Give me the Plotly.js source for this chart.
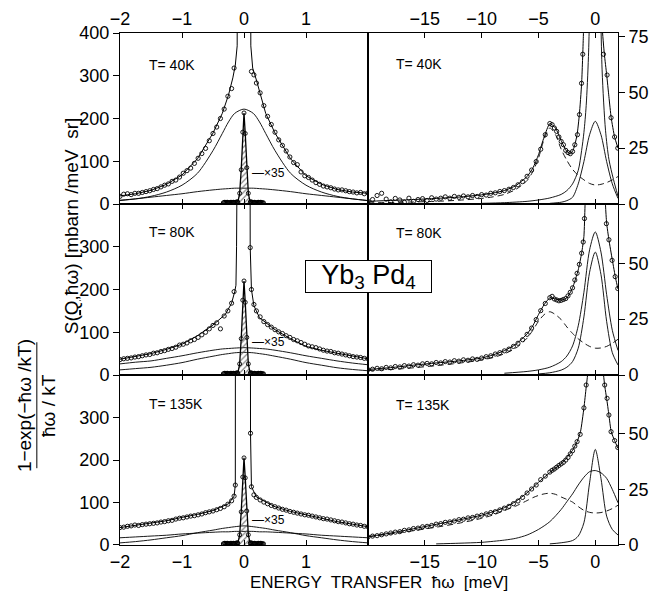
<!DOCTYPE html>
<html><head><meta charset="utf-8">
<script src="https://cdn.plot.ly/plotly-3.0.1.min.js"></script>
<style>html,body{margin:0;padding:0;background:#fff}#chart{width:652px;height:598px}</style>
</head><body><div id="chart"></div>
<script>
// ---------- LEFT COLUMN (high resolution, -2..2 meV) ----------
const lGrid = [-2,-1.75,-1.5,-1.25,-1,-0.75,-0.5,-0.35,-0.25,-0.15,0,0.15,0.25,0.35,0.5,0.75,1,1.25,1.5,1.75,2];
// 40 K components
const l40Broad = [8,12,18,28,44,72,125,165,192,212,222,212,192,165,125,72,44,28,18,12,8];
const l40Low   = [9,12,16,20,24,29,33,35,36,37,37,37,36,35,33,29,24,20,16,12,8];
// 80 K components
const l80Upper = [26,30,33,39,45,52,58,61,62,63,64,63,62,61,58,52,45,39,33,28,24];
const l80Lower = [12,15,18,23,29,37,44,48,50,52,53,52,50,48,44,37,29,23,17,13,10];
// 135 K components
const l135A = [5,8,12,17,22,29,35,39,41,43,45,43,41,39,35,29,22,17,12,8,5];
const l135B = [17,19,21,23,26,28,30,31,31,32,32,32,31,31,30,28,26,23,21,19,17];

// total fits
const l40TotX = [-2,-1.75,-1.5,-1.25,-1,-0.75,-0.5,-0.35,-0.25,-0.18,-0.14,-0.11,-0.1,0,0.1,0.11,0.14,0.2,0.25,0.35,0.5,0.75,1,1.25,1.5,1.75,2];
const l40Tot  = [19,24,32,46,68,106,166,212,255,295,325,370,1500,3000,1500,370,318,290,262,212,166,106,66,46,34,28,25];
const l80TotX = [-2,-1.75,-1.5,-1.25,-1,-0.75,-0.5,-0.3,-0.2,-0.15,-0.13,-0.12,-0.115,0,0.09,0.1,0.12,0.16,0.25,0.5,0.75,1,1.25,1.5,1.75,2];
const l80Tot  = [37,43,50,60,72,92,117,142,168,195,210,300,1500,3000,1500,300,200,162,134,106,85,67,58,51,44,38];
const l135TotX = [-2,-1.75,-1.5,-1.25,-1,-0.75,-0.5,-0.25,-0.16,-0.14,-0.135,0,0.1,0.105,0.12,0.2,0.5,0.75,1,1.25,1.5,1.75,2];
const l135Tot  = [41,46,51,57,65,72,81,97,115,141,1500,3000,1500,263,137,113,90,79,71,63,55,49,43];

// elastic line x35 (hatched)
const elX   = [-0.1,-0.07,-0.045,-0.02,0,0.02,0.045,0.07,0.1];
const el40  = [4,25,80,168,213,165,85,25,4];
const el80  = [4,26,85,175,220,170,88,26,4];
const el135 = [4,24,78,160,205,158,80,24,4];
const elBaseX = [-0.33,-0.31,-0.29,-0.27,-0.25,-0.23,-0.21,-0.19,-0.17,-0.15,-0.13,-0.11,0.11,0.13,0.15,0.17,0.19,0.21,0.23,0.25,0.27,0.29,0.31];
const elBase  = [3,4,3,4,3,3,4,3,4,3,4,5,5,4,3,4,3,3,4,3,4,3,3];

// measured points, left column
const lPtsX = [-2,-1.94,-1.88,-1.82,-1.76,-1.7,-1.64,-1.58,-1.52,-1.46,-1.4,-1.34,-1.28,-1.22,-1.16,-1.1,-1.04,-0.98,-0.92,-0.86,-0.8,-0.74,-0.68,-0.62,-0.56,-0.5,-0.44,-0.38,-0.32,-0.26,-0.2,-0.16,
  0.12,0.16,0.2,0.26,0.32,0.38,0.44,0.5,0.56,0.62,0.68,0.74,0.8,0.86,0.92,0.98,1.04,1.1,1.16,1.22,1.28,1.34,1.4,1.46,1.52,1.58,1.64,1.7,1.76,1.82,1.88,1.94,2];
const l40Pts = [18,23,24,22,25,25,27,29,31,34,36,40,44,47,53,56,63,72,78,84,95,107,118,130,148,165,180,200,222,252,270,318,
  310,302,283,260,230,205,186,168,150,137,124,110,97,92,75,66,62,56,50,46,42,40,38,35,33,33,31,29,28,26,27,24,26];
const l80Pts = [36,38,39,40,42,43,45,47,48,51,52,55,57,60,62,65,70,72,75,80,83,88,94,100,108,116,122,108,138,150,168,195,
  200,165,150,136,125,118,112,106,101,97,92,88,83,80,76,72,68,66,64,61,58,56,55,52,51,49,47,45,43,42,41,39,38];
const l135Pts = [41,42,44,45,47,46,48,49,50,51,52,54,55,57,58,61,63,64,66,68,69,71,73,76,78,80,83,86,90,96,104,115,
  137,118,112,106,101,97,93,90,87,84,82,79,77,75,73,71,70,68,66,64,62,61,59,57,55,54,52,50,49,47,46,44,43];
const l80ExtraX = [0.1], l80Extra = [298];
const l135ExtraX = [-0.14,0.105], l135Extra = [141,263];

// ---------- RIGHT COLUMN (-20..2 meV) ----------
const rDashX = [-20,-17,-14,-12,-10,-9,-8,-7,-6,-5.5,-5,-4.5,-4,-3.5,-3,-2.5,-2,-1.5,-1,-0.5,0,0.5,1,1.5,2];
const r40Dash  = [0.5,0.8,1.2,1.7,2.5,3.2,4.3,6.5,10.5,14.5,20.5,29,34,31,24.5,19.5,15.5,12.8,10.8,9.2,8.5,8.8,9.6,10.8,12.3];
const r80Dash  = [2,2.8,4.2,5.3,6.7,7.8,9.5,12,16.5,20,24,27,28.3,27,24.8,21.5,18.6,16.2,14.3,12.8,12,12.1,12.8,14.2,16];
const r135Dash = [3.7,5.7,8,9.8,12,13.5,15.5,17.5,20,21.3,22.3,23,23.3,22.8,21.6,20.5,19.3,17.3,15.6,14.7,14.4,14.6,15.3,16.4,17.9];

const r40TotX = [-20,-18,-16,-14,-12,-10,-9,-8,-7,-6,-5.5,-5,-4.5,-4,-3.5,-3,-2.5,-2.2,-2,-1.8,-1.6,-1.4,-1.2,-1.05,-0.9,-0.5,0,0.4,0.6,0.8,1,1.2,1.4,1.7,2];
const r40Tot  = [1.2,1.6,2,2.5,3.1,4.1,4.9,6,8.2,12.3,16,22,30,36,34,28.3,23.5,22.5,23.5,26.5,31,40,54,75,110,300,500,200,80,67,58,48,38.6,30,25];
const r40QeX = [-10,-8,-6,-5,-4,-3,-2.5,-2,-1.5,-1.2,-1,-0.8,-0.6,-0.4,0,0.4,0.6,0.9,1.2,1.6,2];
const r40Qe  = [0.3,0.6,1.2,1.8,2.7,4.3,6,9,15,24,32,44,66,110,220,110,60,33,20,11,3.5];
const r40Q2X = [-4,-3,-2.5,-2,-1.5,-1,-0.5,0,0.5,1,1.5,2];
const r40Q2  = [0.3,0.8,1.5,3,9,19,31,37,31,19,9,2.5];

const r80TotX = [-20,-18,-16,-14,-12,-10,-9,-8,-7,-6,-5.5,-5,-4.5,-4,-3.5,-3,-2.5,-2,-1.5,-1.2,-1,-0.9,-0.5,0,0.5,0.9,1,1.2,1.5,1.8,2];
const r80Tot  = [2.5,3.3,4.4,5.4,6.3,7.6,9,10.9,13.7,18.4,22,27,31.5,34.5,34,33.5,34.5,39,47,54.5,62,76,150,250,150,76,68,60.5,51.5,43,38.5];
const r80QaX = [-8,-6,-5,-4,-3,-2.5,-2,-1.5,-1,-0.5,0,0.5,1,1.5,2];
const r80Qa  = [0.8,1.6,2.3,3.5,6,8.5,13,22,37,56,64,55,36,20,11];
const r80QbX = [-5,-4,-3,-2.5,-2,-1.5,-1,-0.5,0,0.5,1,1.5,2];
const r80Qb  = [0.5,1,2.2,3.5,6,12,26,46,55,45,24,10,4.5];

const r135TotX = [-20,-18,-16,-14,-12,-10,-9,-8,-7,-6,-5,-4,-3,-2.5,-2,-1.6,-1.3,-1,-0.8,-0.65,0,0.7,0.85,1,1.2,1.4,1.7,2];
const r135Tot  = [3.7,5.4,7.3,9.3,11.3,13.4,15,16.8,19.6,23.5,28.2,32.6,36.6,39.3,42.6,46.5,51,61.7,71,78,160,78,71,66,58.5,51,47,43.5];
const r135ShX = [-4,-3,-2,-1.5,-1,-0.5,0,0.5,1,1.5,2];
const r135Sh  = [0.5,1,2,4,10,28,43,30,13,7,4.5];
const r135BrX = [-14,-12,-10,-8,-7,-6,-5,-4,-3,-2.5,-2,-1.5,-1,-0.5,0,0.5,1,1.5,2];
const r135Br  = [0.5,0.8,1.2,2.2,3,4.5,7,10.5,16,19.5,23,27,30.5,33,33.5,32.5,30,25,19];

// measured points, right column
const rPtsX = [-20,-19.6,-19.2,-18.8,-18.4,-18,-17.6,-17.2,-16.8,-16.4,-16,-15.6,-15.2,-14.8,-14.4,-14,-13.6,-13.2,-12.8,-12.4,-12,-11.6,-11.2,-10.8,-10.4,-10,-9.6,-9.2,-8.8,-8.4,-8,-7.6,-7.2,-6.8,-6.4,-6,-5.6,-5.2,-4.8,-4.4,-4,-3.8,-3.6,-3.4,-3.2,-3,-2.8,-2.6,-2.4,-2.2,-2,-1.8];
const r40Pts = [1.2,2,3.8,4.8,2.2,1,2.5,1.8,0.8,2.6,1.2,2,2.4,1.6,2.8,2.2,2.6,3.2,2.6,3.4,3,3.6,3.2,3.8,3.4,4.2,4,4.8,5,5.6,6,6.6,7.4,8.6,10,12.4,15.2,19,24.5,31,36,35.5,34,32.5,30,28,26.5,24,23,22.5,23.5,26.5];
const r80Pts = [2.4,2.6,3,2.8,3.4,3.2,3.8,3.6,4.2,4,4.6,4.4,5,5.2,5,5.6,5.4,6,5.8,6.4,6.2,6.8,6.6,7.2,7,7.6,8.2,8.6,9.4,10,10.8,11.6,12.8,14.2,15.8,18.2,21,24.8,28.8,32,34.6,35.2,34,33.6,33.2,33.4,33.8,34.2,35.4,37,39,42.5];
const r135Pts = [3.6,4,4.2,4.6,5,5.4,5.8,6,6.6,6.8,7.4,7.6,8.2,8.4,8.8,9.4,9.6,10.2,10.4,10.8,11.4,11.6,12.2,12.4,13,13.4,14,14.6,15,15.8,16.6,17.4,18.6,19.8,21.4,23.4,25.2,27,29.4,31,32.8,33.6,34.2,35,35.8,36.5,37.2,38.2,39.4,41,42.4,44.5];
const r40WingX = [-1.57,-1.39,-1.21,-1.1,0.72,1.04,1.39,1.7,1.98];
const r40Wing  = [31,40,54,67,67,57.7,38.6,30,25];
const r80WingX = [-1.6,-1.4,-1.2,-1.06,-0.95,0.98,1.2,1.48,1.75,1.98];
const r80Wing  = [45.5,49.5,54.5,59.5,70,67.7,60.5,51.3,44,38.7];
const r135WingX = [-1.6,-1.33,-1,-0.8,0.83,1.04,1.2,1.39,1.7,1.98];
const r135Wing  = [46.5,49.8,61.7,72,72,66,58.5,51,47,43.9];

// tick labels
const lTicks = [-2,-1,0,1];
const rTicks = [-15,-10,-5,0];
const lYTop = [0,100,200,300,400], lY = [0,100,200,300];
const rYTop = [0,25,50,75], rY = [0,25,50];

// ---------- drawing ----------
const FONT = 'Liberation Sans, Arial, sans-serif';
const traces = [];
function add(x, y, xa, ya, extra) {
  traces.push(Object.assign({x: x, y: y, xaxis: xa, yaxis: ya, type: 'scatter', mode: 'lines',
    line: {color: 'black', width: 0.9}, hoverinfo: 'skip', showlegend: false, cliponaxis: true}, extra || {}));
}
const spl = {line: {color: 'black', width: 0.9, shape: 'spline', smoothing: 0.8}};
const pts = {mode: 'markers', marker: {symbol: 'circle-open', size: 4.2, color: 'black', line: {width: 0.9, color: 'black'}}};
const dsh = {line: {color: 'black', width: 0.9, dash: '6px,4px', shape: 'spline', smoothing: 0.8}};

const left = [
  {xa: 'x', ya: 'y', comps: [l40Broad, l40Low], totX: l40TotX, tot: l40Tot, el: el40, p: l40Pts, ex: [], ey: []},
  {xa: 'x3', ya: 'y3', comps: [l80Upper, l80Lower], totX: l80TotX, tot: l80Tot, el: el80, p: l80Pts, ex: l80ExtraX, ey: l80Extra},
  {xa: 'x5', ya: 'y5', comps: [l135A, l135B], totX: l135TotX, tot: l135Tot, el: el135, p: l135Pts, ex: l135ExtraX, ey: l135Extra}
];
left.forEach(function (P) {
  P.comps.forEach(function (c) { add(lGrid, c, P.xa, P.ya, spl); });
  add(elX, P.el, P.xa, P.ya, {fill: 'tozeroy', fillcolor: 'rgba(255,255,255,0)',
    fillpattern: {shape: '/', fgcolor: '#666', bgcolor: 'rgba(255,255,255,0)', size: 4, solidity: 0.25},
    line: {color: 'black', width: 1.3}});
  add(elX, P.el, P.xa, P.ya, {mode: 'markers', marker: {symbol: 'circle-open', size: 4, color: 'black', line: {width: 0.9}}});
  add(elBaseX, elBase, P.xa, P.ya, {mode: 'markers', marker: {symbol: 'circle-open', size: 4, color: 'black', line: {width: 1.2}}});
  add(P.totX, P.tot, P.xa, P.ya, {line: {color: 'black', width: 1}});
  add(lPtsX, P.p, P.xa, P.ya, pts);
  if (P.ex.length) add(P.ex, P.ey, P.xa, P.ya, pts);
});

const right = [
  {xa: 'x2', ya: 'y2', dash: r40Dash, comps: [[r40QeX, r40Qe], [r40Q2X, r40Q2]], totX: r40TotX, tot: r40Tot, p: r40Pts, wx: r40WingX, wy: r40Wing},
  {xa: 'x4', ya: 'y4', dash: r80Dash, comps: [[r80QaX, r80Qa], [r80QbX, r80Qb]], totX: r80TotX, tot: r80Tot, p: r80Pts, wx: r80WingX, wy: r80Wing},
  {xa: 'x6', ya: 'y6', dash: r135Dash, comps: [[r135ShX, r135Sh], [r135BrX, r135Br]], totX: r135TotX, tot: r135Tot, p: r135Pts, wx: r135WingX, wy: r135Wing}
];
right.forEach(function (P) {
  add(rDashX, P.dash, P.xa, P.ya, dsh);
  P.comps.forEach(function (c) { add(c[0], c[1], P.xa, P.ya, spl); });
  add(P.totX, P.tot, P.xa, P.ya, {line: {color: 'black', width: 1, shape: 'spline', smoothing: 0.5}});
  add(rPtsX, P.p, P.xa, P.ya, pts);
  add(P.wx, P.wy, P.xa, P.ya, pts);
});

const tf = {family: FONT, size: 18, color: 'black'};
function minus(v) { return v < 0 ? '\u2212' + Math.abs(v) : String(v); }
function xax(domain, range, tv, side, labels, anchor) {
  return {domain: domain, range: range, tickvals: tv, ticktext: tv.map(minus), side: side, showticklabels: labels,
    anchor: anchor, ticks: 'inside', ticklen: 5, tickcolor: 'black', tickwidth: 1, showline: true, linecolor: 'black',
    linewidth: 1, mirror: 'ticks', showgrid: false, zeroline: false, tickfont: tf, fixedrange: true};
}
function yax(domain, range, tv, side, anchor) {
  return {domain: domain, range: range, tickvals: tv, ticktext: tv.map(String), side: side, anchor: anchor,
    ticks: 'outside', ticklen: 6, tickcolor: 'black', tickwidth: 1, showline: true, linecolor: 'black', linewidth: 1,
    mirror: true, showgrid: false, zeroline: false, tickfont: tf, fixedrange: true};
}
const dL = [0, 0.498], dR = [0.498, 1];
const r1 = [0.666, 1], r2 = [0.332, 0.666], r3 = [0, 0.332];
const LR = [0, 400], RR = [0, 76.5];

const tl = {family: FONT, size: 14, color: 'black'};
const sm = {family: FONT, size: 12, color: 'black'};
const yt = {family: FONT, size: 19, color: 'black'};
function note(xr, yr, x, y, text, font, extra) {
  return Object.assign({xref: xr, yref: yr, x: x, y: y, text: text, showarrow: false, xanchor: 'left', yanchor: 'middle', font: font}, extra || {});
}
const annotations = [
  note('x', 'y', -1.56, 325, 'T= 40K', tl),
  note('x3', 'y3', -1.56, 334, 'T= 80K', tl),
  note('x5', 'y5', -1.56, 332, 'T= 135K', tl),
  note('x2', 'y2', -17.75, 62.6, 'T= 40K', tl),
  note('x4', 'y4', -17.75, 63.4, 'T= 80K', tl),
  note('x6', 'y6', -17.75, 63, 'T= 135K', tl),
  note('x', 'y', 0.09, 72, '\u2014\u00d735', sm),
  note('x3', 'y3', 0.09, 78, '\u2014\u00d735', sm),
  note('x5', 'y5', 0.09, 59, '\u2014\u00d735', sm),
  note('paper', 'paper', 0.499, 0.524, 'Yb<sub>3</sub> Pd<sub>4</sub>', {family: FONT, size: 27, color: 'black'},
    {xanchor: 'center', bgcolor: 'white', bordercolor: 'black', borderwidth: 1, width: 123, height: 29, borderpad: 1}),
  note('paper', 'paper', 0.52, -0.0742, 'ENERGY  TRANSFER  \u0127\u03c9  [meV]', {family: FONT, size: 17, color: 'black'},
    {xanchor: 'center'}),
  note('paper', 'paper', -0.098, 0.623, 'S(<u>Q</u>,\u0127\u03c9) [mbarn /meV  sr]', yt, {xanchor: 'center', textangle: -90}),
  note('paper', 'paper', -0.193, 0.273, '1\u2212exp(\u2212\u0127\u03c9 /kT)', yt, {xanchor: 'center', textangle: -90}),
  note('paper', 'paper', -0.145, 0.273, '\u0127\u03c9 / kT', yt, {xanchor: 'center', textangle: -90})
];
const shapes = [
  {type: 'line', xref: 'paper', yref: 'paper', x0: -0.167, x1: -0.167, y0: 0.150, y1: 0.396, line: {color: 'black', width: 1}}
];

const layout = {
  width: 652, height: 598, margin: {l: 120, r: 34, t: 33, b: 53},
  paper_bgcolor: 'white', plot_bgcolor: 'rgba(0,0,0,0)', showlegend: false,
  xaxis: xax(dL, [-2, 2], lTicks, 'top', true, 'y'),
  xaxis3: xax(dL, [-2, 2], lTicks, 'bottom', false, 'y3'),
  xaxis5: xax(dL, [-2, 2], lTicks, 'bottom', true, 'y5'),
  xaxis2: xax(dR, [-20, 2], rTicks, 'top', true, 'y2'),
  xaxis4: xax(dR, [-20, 2], rTicks, 'bottom', false, 'y4'),
  xaxis6: xax(dR, [-20, 2], rTicks, 'bottom', true, 'y6'),
  yaxis: yax(r1, LR, lYTop, 'left', 'x'),
  yaxis3: yax(r2, LR, lY, 'left', 'x3'),
  yaxis5: yax(r3, LR, lY, 'left', 'x5'),
  yaxis2: yax(r1, RR, rYTop, 'right', 'x2'),
  yaxis4: yax(r2, RR, rY, 'right', 'x4'),
  yaxis6: yax(r3, RR, rY, 'right', 'x6'),
  annotations: annotations, shapes: shapes
};
Plotly.newPlot('chart', traces, layout, {staticPlot: true, displayModeBar: false});
</script>
</body></html>
